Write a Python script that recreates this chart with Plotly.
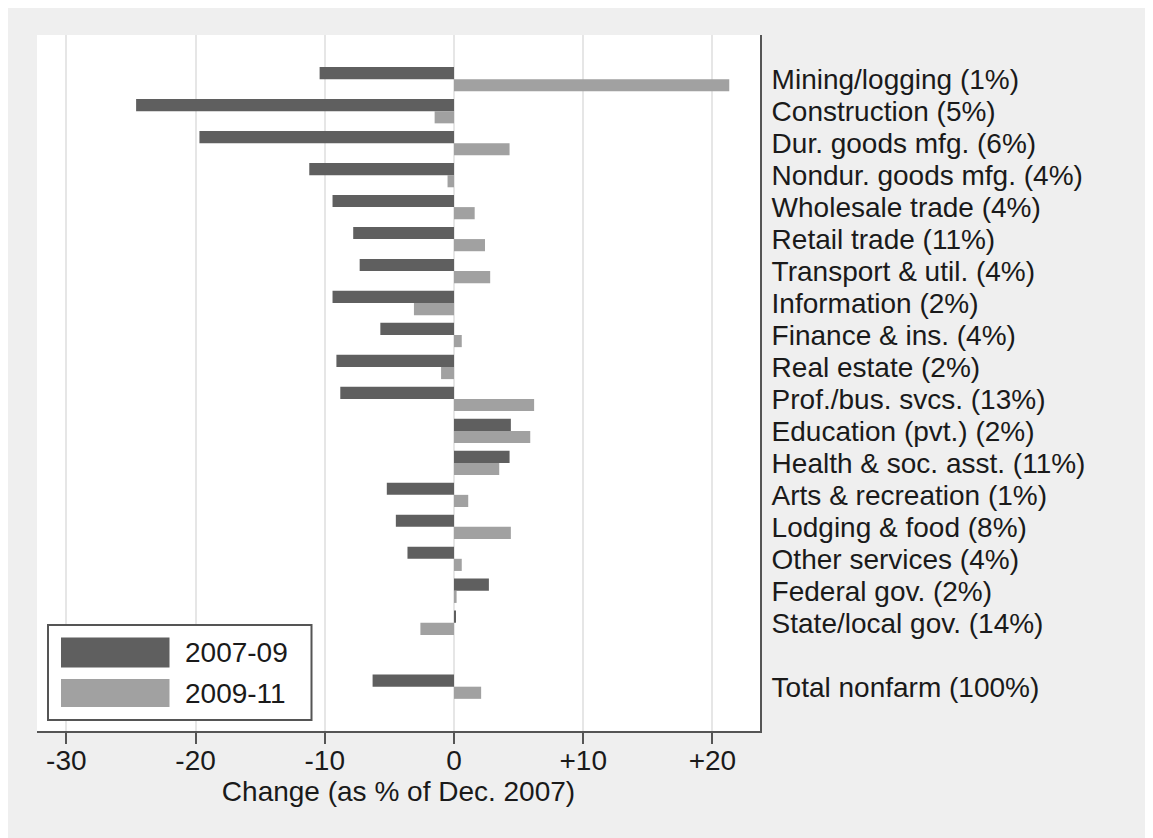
import plotly.graph_objects as go

# ---- data ----
industries = [
    "Mining/logging (1%)", "Construction (5%)", "Dur. goods mfg. (6%)",
    "Nondur. goods mfg. (4%)", "Wholesale trade (4%)", "Retail trade (11%)",
    "Transport & util. (4%)", "Information (2%)", "Finance & ins. (4%)",
    "Real estate (2%)", "Prof./bus. svcs. (13%)", "Education (pvt.) (2%)",
    "Health & soc. asst. (11%)", "Arts & recreation (1%)", "Lodging & food (8%)",
    "Other services (4%)", "Federal gov. (2%)", "State/local gov. (14%)",
    "Total nonfarm (100%)",
]
change_2007_09 = [-10.4, -24.6, -19.7, -11.2, -9.4, -7.8, -7.3, -9.4, -5.7,
                  -9.1, -8.8, 4.4, 4.3, -5.2, -4.5, -3.6, 2.7, 0.15, -6.3]
change_2009_11 = [21.3, -1.5, 4.3, -0.5, 1.6, 2.4, 2.8, -3.1, 0.6,
                  -1.0, 6.2, 5.9, 3.5, 1.1, 4.4, 0.6, 0.2, -2.6, 2.1]
series_names = ["2007-09", "2009-11"]
x_tickvals = [-30, -20, -10, 0, 10, 20]
x_ticktext = ["-30", "-20", "-10", "0", "+10", "+20"]

# category slots: one blank slot before the total row
y_pos = list(range(len(industries) - 1)) + [len(industries)]

DARK = "#5f5f5f"
LIGHT = "#a1a1a1"
FONT = "Liberation Sans, Arial, sans-serif"
TXT = "#1a1a1a"
FS = 28

OFF = 8  # page body margin
W, H = 1145, 830
ML, MR, MT, MB = 29, 393, 27, 107
PW, PH = W - ML - MR, H - MT - MB


def px(x):
    return (x - OFF - ML) / PW


def py(y):
    return (H - MB - (y - OFF)) / PH


fig = go.Figure()
fig.add_trace(go.Bar(y=y_pos, x=change_2007_09, orientation="h", name=series_names[0],
                     marker=dict(color=DARK, line=dict(width=0))))
fig.add_trace(go.Bar(y=y_pos, x=change_2009_11, orientation="h", name=series_names[1],
                     marker=dict(color=LIGHT, line=dict(width=0))))

shapes = [
    # legend box
    dict(type="rect", xref="paper", yref="paper", x0=px(48), x1=px(311.5), y0=py(720), y1=py(625),
         fillcolor="white", line=dict(color="#555555", width=2), layer="above"),
    dict(type="rect", xref="paper", yref="paper", x0=px(61), x1=px(169.5), y0=py(667.5), y1=py(637.5),
         fillcolor=DARK, line=dict(width=0), layer="above"),
    dict(type="rect", xref="paper", yref="paper", x0=px(61), x1=px(169.5), y0=py(707), y1=py(679),
         fillcolor=LIGHT, line=dict(width=0), layer="above"),
]
annotations = [
    dict(text=series_names[0], xref="paper", yref="paper", x=px(183), y=py(652.5),
         xanchor="left", yanchor="middle", showarrow=False, font=dict(size=FS, family=FONT, color=TXT)),
    dict(text=series_names[1], xref="paper", yref="paper", x=px(183), y=py(693),
         xanchor="left", yanchor="middle", showarrow=False, font=dict(size=FS, family=FONT, color=TXT)),
]

fig.update_layout(
    width=W, height=H,
    margin=dict(l=ML, r=MR, t=MT, b=MB, pad=0),
    paper_bgcolor="#efefef", plot_bgcolor="white",
    barmode="group", bargap=0.24, bargroupgap=0,
    showlegend=False,
    font=dict(family=FONT, size=FS, color=TXT),
    shapes=shapes, annotations=annotations,
    xaxis=dict(
        range=[-32.27, 23.68], tickvals=x_tickvals, ticktext=x_ticktext,
        showgrid=True, gridcolor="#e6e6e6", gridwidth=2, zeroline=False,
        showline=True, linecolor="#555555", linewidth=2,
        ticks="outside", ticklen=11, tickwidth=2, tickcolor="#555555",
        ticklabelstandoff=-8,
        tickfont=dict(size=FS, family=FONT, color=TXT),
        title=dict(text="Change (as % of Dec. 2007)", font=dict(size=FS, family=FONT, color=TXT),
                   standoff=6),
    ),
    yaxis=dict(
        range=[20.386, -1.383], side="right",
        tickvals=y_pos, ticktext=industries,
        showgrid=False, zeroline=False,
        showline=True, linecolor="#555555", linewidth=2,
        ticks="", ticklabelstandoff=4,
        tickfont=dict(size=FS, family=FONT, color=TXT),
    ),
)

fig.write_html("out.html")
